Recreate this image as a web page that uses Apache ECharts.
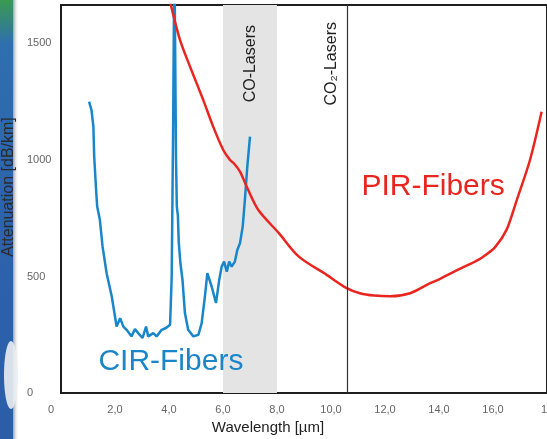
<!DOCTYPE html>
<html>
<head>
<meta charset="utf-8">
<script src="https://cdn.jsdelivr.net/npm/echarts@6/dist/echarts.min.js"></script>
<style>
  html, body { margin: 0; padding: 0; background: #ffffff; }
  #chart { width: 547px; height: 439px; }
</style>
</head>
<body>
<div id="chart"></div>
<script>
// Attenuation spectra of chalcogenide (CIR) and polycrystalline (PIR) IR fibers
const cirWavelength = [1.04, 1.09, 1.13, 1.2, 1.23, 1.3, 1.34, 1.44, 1.54, 1.69, 1.88, 2.06, 2.19, 2.31, 2.43, 2.61, 2.74, 2.86, 3.02, 3.15, 3.23, 3.42, 3.54, 3.73, 3.89, 4.04, 4.1, 4.15, 4.2, 4.26, 4.29, 4.33, 4.36, 4.42, 4.5, 4.59, 4.71, 4.9, 5.09, 5.21, 5.33, 5.42, 5.58, 5.74, 5.86, 5.95, 6.04, 6.14, 6.23, 6.32, 6.44, 6.53, 6.63, 6.73, 6.81, 6.9, 7.0];
const cirAttenuation = [1250, 1230, 1214, 1142, 1014, 871, 800, 743, 628, 514, 414, 285, 321, 285, 271, 243, 274, 257, 236, 285, 243, 257, 243, 271, 279, 293, 500, 1100, 1900, 1000, 800, 760, 650, 560, 485, 343, 271, 243, 250, 300, 414, 514, 457, 386, 485, 542, 564, 521, 564, 542, 564, 614, 643, 714, 828, 971, 1100];

const pirWavelength = [4.0, 4.07, 4.41, 4.78, 5.27, 5.64, 6.01, 6.26, 6.4, 6.63, 6.88, 7.31, 8.07, 8.81, 9.84, 10.58, 11.07, 11.6, 12.19, 12.93, 13.67, 14.04, 14.9, 15.27, 15.64, 16.07, 16.5, 16.88, 17.37, 17.8];
const pirAttenuation = [1700, 1664, 1514, 1400, 1257, 1142, 1043, 1000, 986, 950, 885, 785, 686, 585, 507, 450, 428, 418, 415, 428, 471, 490, 540, 560, 585, 625, 700, 828, 1000, 1207];

const xTickLabels = ['0', '2,0', '4,0', '6,0', '8,0', '10,0', '12,0', '14,0', '16,0', '18'];
const yTicks = [0, 500, 1000, 1500];

const coLaserBand = [6.0, 8.0];
const coLaserLabelAt = 7.3;
const co2LaserLine = 10.6;

const cirLabel = { text: 'CIR-Fibers', at: [4.07, 134] };
const pirLabel = { text: 'PIR-Fibers', at: [13.78, 884] };

const RED = '#e8261f';
const BLUE = '#1886c8';

const zip = (xs, ys) => xs.map((x, i) => [x, ys[i]]);

const chart = echarts.init(document.getElementById('chart'), null, { renderer: 'canvas' });

chart.setOption({
  backgroundColor: '#ffffff',
  animation: false,
  textStyle: { fontFamily: 'Liberation Sans, Arial, sans-serif' },
  graphic: [
    // blue side band with green top
    {
      type: 'rect', left: 0, top: 0, z: -10,
      shape: { width: 13, height: 439 },
      style: {
        fill: new echarts.graphic.LinearGradient(0, 0, 0, 1, [
          { offset: 0, color: '#3a9a52' },
          { offset: 0.1, color: '#2f6fae' },
          { offset: 0.5, color: '#2d62ad' },
          { offset: 1, color: '#2c5ea8' }
        ])
      }
    },
    {
      type: 'rect', left: 13, top: 0, z: -10,
      shape: { width: 6, height: 439 },
      style: {
        fill: new echarts.graphic.LinearGradient(0, 0, 1, 0, [
          { offset: 0, color: '#9aa0a8' },
          { offset: 1, color: 'rgba(255,255,255,0)' }
        ])
      }
    },
    {
      type: 'ellipse', z: -9,
      shape: { cx: 11, cy: 375, rx: 7, ry: 34 },
      style: { fill: 'rgba(235,238,242,0.9)' }
    }
  ],
  grid: {
    left: 61, right: 0, top: 5, bottom: 46,
    containLabel: false,
    outerBoundsMode: 'none',
    show: true,
    borderColor: '#1e1e1e',
    borderWidth: 2,
    backgroundColor: 'transparent'
  },
  xAxis: {
    type: 'value',
    min: 0, max: 18, interval: 2,
    name: 'Wavelength [µm]',
    nameLocation: 'middle',
    nameGap: 26,
    nameTextStyle: { fontSize: 15, color: '#222', padding: [0, 72, 0, 0] },
    axisLine: { show: true, lineStyle: { color: '#1e1e1e', width: 2 } },
    axisTick: { show: false },
    splitLine: { show: false },
    axisLabel: {
      fontSize: 11, color: '#666', margin: 11,
      showMaxLabel: true, showMinLabel: true,
      formatter: v => {
        const s = xTickLabels[Math.round(v / 2)];
        return v === 0 ? '{z|' + s + '}' : s;
      },
      rich: { z: { fontSize: 11, color: '#666', padding: [0, 20, 0, 0] } }
    }
  },
  yAxis: {
    type: 'value',
    min: 0, max: 1665, interval: 500,
    name: 'Attenuation [dB/km]',
    nameLocation: 'middle',
    nameRotate: 90,
    nameGap: 44,
    nameTextStyle: { fontSize: 16, color: '#2a2a2a', padding: [0, 0, 0, 24] },
    axisLine: { show: true, lineStyle: { color: '#1e1e1e', width: 2 } },
    axisTick: { show: false },
    splitLine: { show: false },
    axisLabel: {
      fontSize: 11, color: '#666', align: 'left', margin: 34,
      formatter: v => (yTicks.indexOf(v) >= 0 ? String(v) : '')
    }
  },
  series: [
    {
      name: 'Laser bands',
      type: 'line',
      data: [],
      markArea: {
        silent: true,
        itemStyle: { color: '#e4e4e4' },
        data: [[{ xAxis: coLaserBand[0] }, { xAxis: coLaserBand[1] }]]
      },
      markLine: {
        silent: true,
        symbol: 'none',
        data: [
          {
            xAxis: coLaserLabelAt,
            lineStyle: { color: 'rgba(0,0,0,0)', width: 0 },
            label: {
              show: true, formatter: 'CO-Lasers', position: 'insideEndTop',
              distance: 0, fontSize: 16, color: '#222', padding: [0, 20, 0, 0]
            }
          },
          {
            xAxis: co2LaserLine,
            lineStyle: { color: '#333', width: 1.2, type: 'solid', opacity: 1 },
            label: {
              show: true, formatter: 'CO₂-Lasers', position: 'insideEndTop',
              distance: 8, fontSize: 16, color: '#222', padding: [0, 9, 0, 0]
            }
          }
        ]
      }
    },
    {
      name: 'CIR-Fibers',
      type: 'line',
      data: zip(cirWavelength, cirAttenuation),
      showSymbol: false,
      clip: true,
      lineStyle: { color: BLUE, width: 2.5 },
      itemStyle: { color: BLUE },
      z: 3,
      markPoint: {
        silent: true,
        symbolSize: 0,
        data: [{ coord: cirLabel.at, value: cirLabel.text }],
        label: { show: true, position: 'inside', formatter: cirLabel.text, fontSize: 30, color: BLUE }
      }
    },
    {
      name: 'PIR-Fibers',
      type: 'line',
      data: zip(pirWavelength, pirAttenuation),
      showSymbol: false,
      smooth: 0.3,
      clip: true,
      lineStyle: { color: RED, width: 2.5 },
      itemStyle: { color: RED },
      z: 4,
      markPoint: {
        silent: true,
        symbolSize: 0,
        data: [{ coord: pirLabel.at, value: pirLabel.text }],
        label: { show: true, position: 'inside', formatter: pirLabel.text, fontSize: 30, color: RED }
      }
    }
  ]
});
</script>
</body>
</html>
